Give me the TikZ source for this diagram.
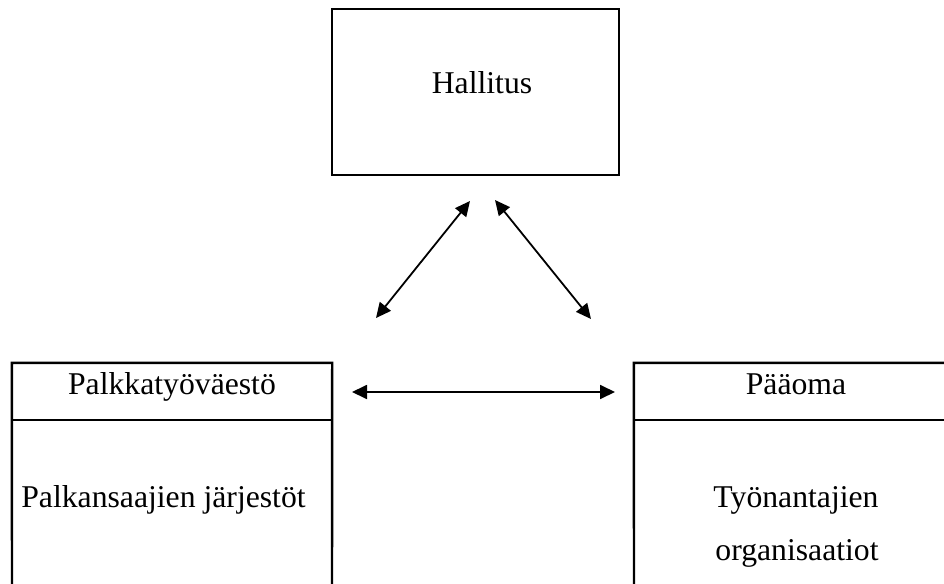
\documentclass[tikz,border=0pt]{standalone}
\usepackage{fontspec}
\setmainfont{Liberation Serif}
\usetikzlibrary{arrows.meta}
\begin{document}
\begin{tikzpicture}[x=1pt,y=-1pt,
  boxline/.style={draw=black,line width=2.4pt,line join=miter},
  lbl/.style={anchor=base,inner sep=0pt,font=\fontsize{31.7}{38}\selectfont},
  link/.style={line width=1.8pt,{Triangle[length=15pt,width=14pt]}-{Triangle[length=15pt,width=14pt]}}]
\useasboundingbox (0,0) rectangle (944,583);
\fill[white] (0,0) rectangle (944,583);
\begin{scope}
\clip (0,0) rectangle (944,583);
% top box
\node[boxline,minimum width=287pt,minimum height=166pt,inner sep=0pt] (hall) at (475.5,92) {};
\node[lbl] (hallt) at (482,94) {Hallitus};
% left box
\node[minimum width=320pt,minimum height=57pt,inner sep=0pt] (lhead) at (172,391.5) {};
\draw[boxline] (12,600) -- (lhead.north west) -- (lhead.north east) -- (332,600);
\draw[boxline] (lhead.south west) -- (lhead.south east);
\node[lbl] (lheadt) at (172,394) {Palkkatyöväestö};
\node[lbl] (lbody) at (163.5,507) {Palkansaajien järjestöt};
% right box
\node[minimum width=340pt,minimum height=57pt,inner sep=0pt] (rhead) at (804,391.5) {};
\draw[boxline] (634,600) -- (rhead.north west) -- (rhead.north east);
\draw[boxline] (rhead.south west) -- (rhead.south east);
\node[lbl] (rheadt) at (796,394) {Pääoma};
\node[lbl] (rbody1) at (796,507) {Työnantajien};
\node[lbl] (rbody2) at (797,560) {organisaatiot};
\end{scope}
% arrows
\coordinate (a1) at (376,318);
\coordinate (a2) at (470,201);
\coordinate (b1) at (495,200);
\coordinate (b2) at (591,319);
\coordinate (c1) at (352,392);
\coordinate (c2) at (615,392);
\draw[link] (a1) -- (a2);
\draw[link] (b1) -- (b2);
\draw[link] (c1) -- (c2);
\end{tikzpicture}
\end{document}
